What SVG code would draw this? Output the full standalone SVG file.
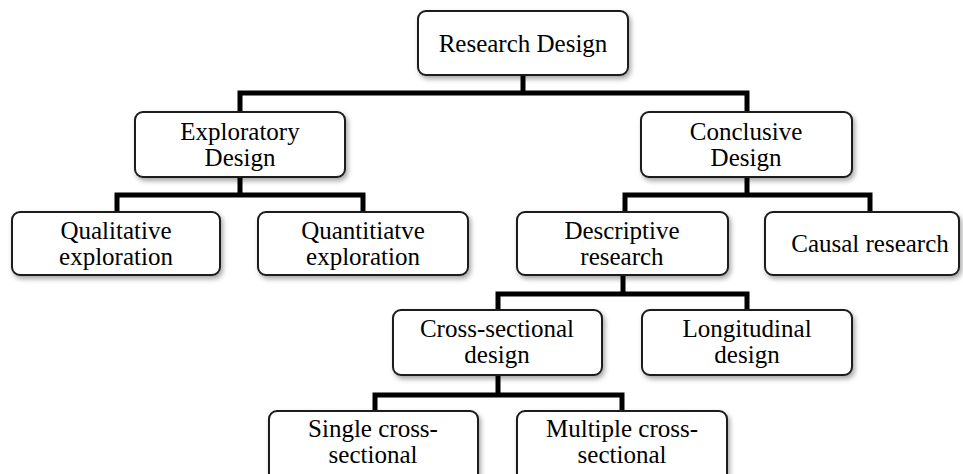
<svg xmlns="http://www.w3.org/2000/svg" width="963" height="474" viewBox="0 0 963 474">
<defs>
<filter id="sh" x="-10%" y="-10%" width="125%" height="135%">
<feDropShadow dx="2" dy="3" stdDeviation="2.5" flood-color="#000" flood-opacity="0.35"/>
</filter>
</defs>
<style>
.box{fill:#fff;stroke:#1a1a1a;stroke-width:2;filter:url(#sh)}
.t{font-size:25px;fill:#000;text-anchor:middle}
.c{fill:none;stroke:#000;stroke-width:5;stroke-linejoin:miter;stroke-linecap:butt}
</style>
<rect width="963" height="474" fill="#fff"/>
<g id="connectors">
<polyline class="c" points="523,75 523,93"/>
<polyline class="c" points="240,112 240,93 747,93 747,112"/>
<polyline class="c" points="240,177 240,195"/>
<polyline class="c" points="117,212 117,195 363,195 363,212"/>
<polyline class="c" points="747,177 747,195"/>
<polyline class="c" points="625,212 625,195 870,195 870,212"/>
<polyline class="c" points="623,275 623,294"/>
<polyline class="c" points="498,310 498,294 747,294 747,310"/>
<polyline class="c" points="498,375 498,395"/>
<polyline class="c" points="375,411 375,395 622,395 622,411"/>
</g>
<g font-family="Liberation Serif, Times New Roman, serif">
<g id="research-design">
<rect class="box" x="418" y="11" width="210" height="64" rx="8"/>
<text class="t" x="523" y="52">Research Design</text>
</g>
<g id="exploratory-design">
<rect class="box" x="135" y="112" width="210" height="65" rx="8"/>
<text class="t" x="240" y="140">Exploratory</text>
<text class="t" x="240" y="166">Design</text>
</g>
<g id="conclusive-design">
<rect class="box" x="641" y="112" width="211" height="65" rx="8"/>
<text class="t" x="746" y="140">Conclusive</text>
<text class="t" x="746" y="166">Design</text>
</g>
<g id="qualitative-exploration">
<rect class="box" x="12" y="212" width="208" height="63" rx="8"/>
<text class="t" x="116" y="239">Qualitative</text>
<text class="t" x="116" y="265">exploration</text>
</g>
<g id="quantitative-exploration">
<rect class="box" x="258" y="212" width="210" height="63" rx="8"/>
<text class="t" x="363" y="239">Quantitiatve</text>
<text class="t" x="363" y="265">exploration</text>
</g>
<g id="descriptive-research">
<rect class="box" x="517" y="212" width="211" height="63" rx="8"/>
<text class="t" x="622" y="239">Descriptive</text>
<text class="t" x="622" y="265">research</text>
</g>
<g id="causal-research">
<rect class="box" x="765" y="212" width="194" height="63" rx="8"/>
<text class="t" x="870" y="252">Causal research</text>
</g>
<g id="cross-sectional-design">
<rect class="box" x="393" y="310" width="209" height="65" rx="8"/>
<text class="t" x="497" y="337">Cross-sectional</text>
<text class="t" x="497" y="363">design</text>
</g>
<g id="longitudinal-design">
<rect class="box" x="642" y="310" width="210" height="65" rx="8"/>
<text class="t" x="747" y="337">Longitudinal</text>
<text class="t" x="747" y="363">design</text>
</g>
<g id="single-cross-sectional">
<rect class="box" x="269" y="411" width="209" height="75" rx="8"/>
<text class="t" x="373" y="437">Single cross-</text>
<text class="t" x="373" y="463">sectional</text>
</g>
<g id="multiple-cross-sectional">
<rect class="box" x="517" y="411" width="210" height="75" rx="8"/>
<text class="t" x="622" y="437">Multiple cross-</text>
<text class="t" x="622" y="463">sectional</text>
</g>
</g>
</svg>
